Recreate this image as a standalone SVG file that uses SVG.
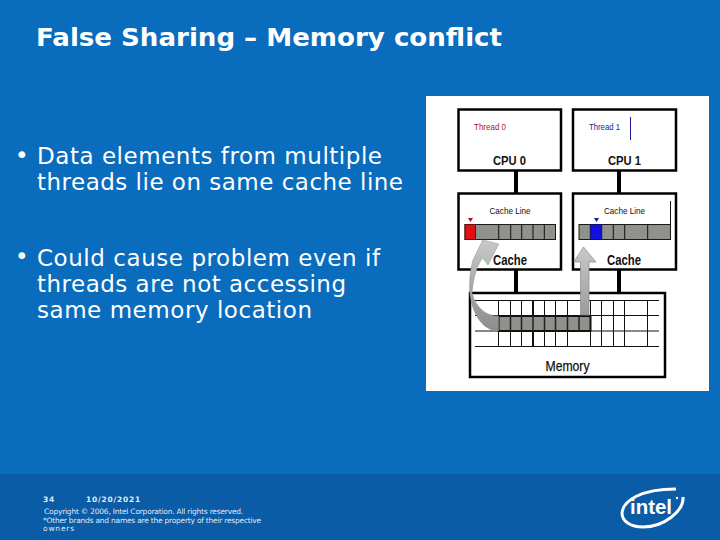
<svg xmlns="http://www.w3.org/2000/svg" width="720" height="540" viewBox="0 0 720 540">
<style>
.t{font-family:"DejaVu Sans",Verdana,sans-serif;fill:#fff}
.b{font-size:23px}
.f{font-size:7.5px;letter-spacing:.8px;fill-opacity:.9}
.d{font-family:"Liberation Sans",Arial,sans-serif;fill:#111}
.box{fill:#fff;stroke:#000;stroke-width:2.5}
.bus{stroke:#000;stroke-width:4;fill:none}
.cell{fill:#8e918c;stroke:#1a1a1a;stroke-width:1}
.g{stroke:#111;stroke-width:1;fill:none}
</style>
<defs>
<linearGradient id="arr" x1="0" y1="1" x2="0" y2="0"><stop offset="0" stop-color="#9a9d9a"/><stop offset="1" stop-color="#c8cac8"/></linearGradient>
<linearGradient id="arc" x1="0" y1="1" x2="0" y2="0"><stop offset="0" stop-color="#8a8d8a"/><stop offset="1" stop-color="#c8cac8"/></linearGradient>
</defs>
<rect id="background" width="720" height="540" fill="#0a6cbd"/>
<rect id="footer" y="474" width="720" height="66" fill="#0a5ca6"/>
<text id="title" class="t" x="36" y="46" font-size="24" font-weight="bold" textLength="466" lengthAdjust="spacingAndGlyphs">False Sharing – Memory conflict</text>
<g id="bullets">
<text class="t" x="15" y="163" font-size="23">•</text>
<text class="t b" x="37" y="164" textLength="345">Data elements from multiple</text>
<text class="t b" x="37" y="190" textLength="366">threads lie on same cache line</text>
<text class="t" x="15" y="264" font-size="23">•</text>
<text class="t b" x="37" y="266" textLength="343">Could cause problem even if</text>
<text class="t b" x="37" y="292" textLength="309">threads are not accessing</text>
<text class="t b" x="37" y="318" textLength="275">same memory location</text>
</g>
<rect id="panel" x="426" y="96" width="283" height="295" fill="#fff"/>
<g id="connectors">
<path class="bus" d="M516 171V193M619 171V193M516 270V293M619 270V293"/>
</g>
<g id="cpu0"><rect class="box" x="458.500" y="109.500" width="102.500" height="61"/>
<text x="474" y="130" font-family="Liberation Sans,sans-serif" font-size="9.500" fill="#b01020" textLength="32" lengthAdjust="spacingAndGlyphs">Thread 0</text>
<text class="d" x="493" y="164.500" font-size="13" font-weight="bold" textLength="33" lengthAdjust="spacingAndGlyphs">CPU 0</text></g>
<g id="cpu1"><rect class="box" x="573" y="109.500" width="103" height="61"/>
<text x="589" y="130" font-family="Liberation Sans,sans-serif" font-size="9.500" fill="#1a1a9a" textLength="31" lengthAdjust="spacingAndGlyphs">Thread 1</text>
<path d="M630.500 117V140" stroke="#1a1a9a" stroke-width="1"/>
<text class="d" x="608" y="164.500" font-size="13" font-weight="bold" textLength="33" lengthAdjust="spacingAndGlyphs">CPU 1</text></g>
<g id="cache0"><rect class="box" x="458.500" y="193.500" width="102.500" height="76"/>
<text class="d" x="489.500" y="214" font-size="9" textLength="41" lengthAdjust="spacingAndGlyphs">Cache Line</text>
<path d="M468 218h5l-2.500 4z" fill="#b01020"/>
<rect class="cell" x="465" y="224.500" width="90.500" height="15"/>
<rect x="465" y="224.500" width="10.500" height="15" fill="#e01010" stroke="#601010"/>
<path class="g" d="M498.700 224.500v15M510.700 224.500v15M521.700 224.500v15M533 224.500v15M544.300 224.500v15"/>
<text class="d" x="493" y="265" font-size="14" font-weight="bold" textLength="34" lengthAdjust="spacingAndGlyphs">Cache</text></g>
<g id="cache1"><rect class="box" x="573" y="193.500" width="103" height="76"/>
<text class="d" x="604" y="214" font-size="9" textLength="41" lengthAdjust="spacingAndGlyphs">Cache Line</text>
<path d="M594 218h5l-2.500 4z" fill="#1a1a9a"/>
<path d="M670.500 201V224" stroke="#111" stroke-width="1"/>
<rect class="cell" x="579" y="224.500" width="91.500" height="15"/>
<rect x="590.300" y="224.500" width="11.400" height="15" fill="#1010e0" stroke="#101060"/>
<path class="g" d="M613.300 224.500v15M624.700 224.500v15M647.700 224.500v15"/>
<text class="d" x="607" y="265" font-size="14" font-weight="bold" textLength="34" lengthAdjust="spacingAndGlyphs">Cache</text></g>
<g id="memory"><rect class="box" x="470" y="293" width="195" height="84"/>
<path class="g" d="M475 300.500H659M475 315.500H659M475 331H659M475 346.500H659M498.500 300.500V346.500M510.500 300.500V346.500M521.500 300.500V346.500M544.500 300.500V346.500M555.500 300.500V346.500M567.500 300.500V346.500M590.500 300.500V346.500M601.500 300.500V346.500M613.500 300.500V346.500M624.500 300.500V346.500M647.500 300.500V346.500"/>
<path d="M533 300.500V346.500" stroke="#111" stroke-width="2"/>
<rect x="498.500" y="316" width="92" height="15" fill="#8e918c" stroke="#111" stroke-width="2"/>
<path d="M510.500 316v15M521.500 316v15M533 316v15M544.500 316v15M555.500 316v15M567.500 316v15M579 316v15" stroke="#222" stroke-width="1.500"/>
<text class="d" x="545.500" y="370.500" font-size="14" stroke="#111" stroke-width=".25" textLength="44" lengthAdjust="spacingAndGlyphs">Memory</text></g>
<g id="arrows">
<path d="M580.500 315V262H573.700L583.500 247L596 262H589V315Z" fill="url(#arr)" stroke="#888" stroke-width=".7"/>
<path d="M498.500 316V331C484 331 473 316 470 295C469 282 470 270 473 260L482.700 240L498.700 244L488 265L482.700 258C477 264 473 280 472 293C476 308 486 316 498.500 316Z" fill="url(#arc)" stroke="#8c8f8c" stroke-width=".5"/>
</g>
<g id="footer-text">
<text class="t f" x="43" y="502" font-weight="bold">34</text>
<text class="t f" x="86" y="502" font-weight="bold" textLength="55">10/20/2021</text>
<text class="t f" x="44" y="514" textLength="200">Copyright © 2006, Intel Corporation. All rights reserved.</text>
<text class="t f" x="43" y="523" textLength="219">*Other brands and names are the property of their respective</text>
<text class="t f" x="43" y="531">owners</text>
</g>
<g id="intel-logo">
<path d="M622 513C623 501 640 489 676 489M683 497C684 511 664 527 643 527C630 527 622 521 622 513" fill="none" stroke="#fff" stroke-width="3"/>
<text x="630" y="514" font-family="Liberation Sans,sans-serif" font-size="21" font-weight="bold" fill="#fff" textLength="42" lengthAdjust="spacingAndGlyphs">intel</text>
<circle cx="677" cy="498" r="1.200" fill="#fff"/>
</g>
</svg>
